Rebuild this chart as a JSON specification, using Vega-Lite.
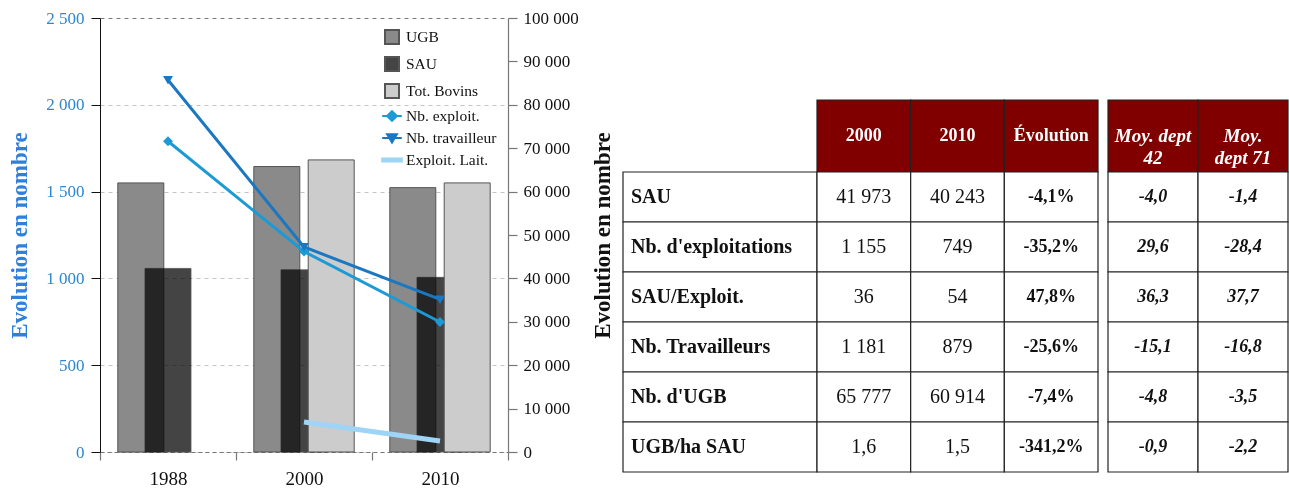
{
  "$schema": "https://vega.github.io/schema/vega-lite/v6.json",
  "background": "white",
  "padding": {"left": 8, "top": 9, "right": 0, "bottom": 0},
  "datasets": {
    "barres": [
      {"annee": "1988", "serie": "UGB", "valeur": 62000},
      {"annee": "1988", "serie": "SAU", "valeur": 42300},
      {"annee": "2000", "serie": "UGB", "valeur": 65777},
      {"annee": "2000", "serie": "SAU", "valeur": 41973},
      {"annee": "2000", "serie": "Tot. Bovins", "valeur": 67300},
      {"annee": "2010", "serie": "UGB", "valeur": 60914},
      {"annee": "2010", "serie": "SAU", "valeur": 40243},
      {"annee": "2010", "serie": "Tot. Bovins", "valeur": 62000}
    ],
    "lignes": [
      {"annee": "2000", "serie": "Exploit. Lait.", "valeur": 173},
      {"annee": "2010", "serie": "Exploit. Lait.", "valeur": 63},
      {"annee": "1988", "serie": "Nb. exploit.", "valeur": 1790},
      {"annee": "2000", "serie": "Nb. exploit.", "valeur": 1155},
      {"annee": "2010", "serie": "Nb. exploit.", "valeur": 749},
      {"annee": "1988", "serie": "Nb. travailleur", "valeur": 2143},
      {"annee": "2000", "serie": "Nb. travailleur", "valeur": 1181},
      {"annee": "2010", "serie": "Nb. travailleur", "valeur": 879}
    ],
    "tableau": [
      {"indicateur": "SAU", "v2000": "41 973", "v2010": "40 243", "evol": "-4,1%", "moy42": "-4,0", "moy71": "-1,4"},
      {"indicateur": "Nb. d'exploitations", "v2000": "1 155", "v2010": "749", "evol": "-35,2%", "moy42": "29,6", "moy71": "-28,4"},
      {"indicateur": "SAU/Exploit.", "v2000": "36", "v2010": "54", "evol": "47,8%", "moy42": "36,3", "moy71": "37,7"},
      {"indicateur": "Nb. Travailleurs", "v2000": "1 181", "v2010": "879", "evol": "-25,6%", "moy42": "-15,1", "moy71": "-16,8"},
      {"indicateur": "Nb. d'UGB", "v2000": "65 777", "v2010": "60 914", "evol": "-7,4%", "moy42": "-4,8", "moy71": "-3,5"},
      {"indicateur": "UGB/ha SAU", "v2000": "1,6", "v2010": "1,5", "evol": "-341,2%", "moy42": "-0,9", "moy71": "-2,2"}
    ]
  },
  "spacing": 11,
  "resolve": {
    "scale": {"fill": "independent", "stroke": "independent", "shape": "independent"},
    "legend": {"fill": "independent", "stroke": "independent", "shape": "independent"}
  },
  "hconcat": [
    {
      "width": 408,
      "height": 434,
      "encoding": {
        "x": {
          "field": "annee", "type": "nominal", "sort": null,
          "scale": {"domain": ["1988", "2000", "2010"], "paddingInner": 0, "paddingOuter": 0},
          "axis": {
            "title": null, "labelAngle": 0, "labelFont": "Liberation Serif", "labelFontSize": 19, "labelColor": "#111",
            "labelPadding": 9, "tickBand": "extent", "tickSize": 8, "tickColor": "#777", "tickWidth": 1.2,
            "domain": true, "domainColor": "#777", "domainDash": [4, 3], "grid": false
          }
        }
      },
      "layer": [
        {
          "data": {"name": "barres"},
          "encoding": {
            "xOffset": {"field": "serie", "type": "nominal", "sort": null,
              "scale": {"domain": ["UGB", "SAU", "Tot. Bovins"], "paddingInner": 0, "paddingOuter": 1.456}},
            "y": {
              "field": "valeur", "type": "quantitative", "stack": null,
              "scale": {"domain": [0, 100000], "nice": false, "zero": true},
              "axis": {
                "orient": "right", "title": null, "values": [0, 10000, 20000, 30000, 40000, 50000, 60000, 70000, 80000, 90000, 100000],
                "labelExpr": "replace(format(datum.value, ','), regexp(',', 'g'), ' ')",
                "labelFont": "Liberation Serif", "labelFontSize": 17, "labelColor": "#111", "labelPadding": 6,
                "tickSize": 9, "tickColor": "#777", "tickWidth": 1.2, "domainColor": "#777", "domainWidth": 1.2, "grid": false
              }
            },
            "fill": {
              "field": "serie", "type": "nominal",
              "scale": {
                "domain": ["UGB", "SAU", "Tot. Bovins", "Nb. exploit.", "Nb. travailleur", "Exploit. Lait."],
                "range": ["#8a8a8a", "#444444", "#cccccc", "#1c9ad6", "#1a78c2", "#9ed4f6"]
              },
              "legend": {
                "title": null, "orient": "top-right", "offset": 11, "padding": 0,
                "labelFont": "Liberation Serif", "labelFontSize": 15.5, "labelColor": "#111", "labelOffset": 6,
                "rowPadding": 5, "symbolSize": 196, "symbolStrokeWidth": 2, "symbolOpacity": 1
              }
            }
          },
          "layer": [
            {"transform": [{"filter": "datum.serie === 'UGB'"}],
              "mark": {"type": "bar", "stroke": "#555", "strokeWidth": 1, "width": 46}},
            {"transform": [{"filter": "datum.serie === 'SAU'"}],
              "mark": {"type": "bar", "stroke": "#555", "strokeWidth": 0.8, "width": 46, "blend": "multiply"}},
            {"transform": [{"filter": "datum.serie === 'Tot. Bovins'"}],
              "mark": {"type": "bar", "stroke": "#555", "strokeWidth": 1, "width": 46}}
          ]
        },
        {
          "data": {"name": "lignes"},
          "encoding": {
            "y": {
              "field": "valeur", "type": "quantitative",
              "scale": {"domain": [0, 2500], "nice": false, "zero": true},
              "axis": {
                "orient": "left", "title": "Evolution en nombre", "values": [0, 500, 1000, 1500, 2000, 2500],
                "labelExpr": "replace(format(datum.value, ','), regexp(',', 'g'), ' ')",
                "labelFont": "Liberation Serif", "labelFontSize": 17, "labelColor": "#2b88d2", "labelPadding": 7,
                "titleFont": "Liberation Serif", "titleFontSize": 23, "titleFontWeight": "bold", "titleColor": "#2f7fdc", "titlePadding": 14,
                "tickSize": 9, "tickColor": "#111", "domainColor": "#111",
                "grid": true, "gridDash": [4, 4],
                "gridColor": {"condition": {"test": "datum.value === 2500", "value": "#777"}, "value": "#c4c4c4"}
              }
            }
          },
          "layer": [
            {
              "transform": [{"filter": "datum.serie === 'Exploit. Lait.'"}],
              "mark": {"type": "line", "strokeWidth": 5},
              "encoding": {
                "stroke": {"field": "serie", "type": "nominal",
                  "scale": {
                    "domain": ["UGB", "SAU", "Tot. Bovins", "Nb. exploit.", "Nb. travailleur", "Exploit. Lait."],
                    "range": ["#555555", "#555555", "#555555", "#1c9ad6", "#1a78c2", "#9ed4f6"]
                  },
                  "legend": {"title": null}}
              }
            },
            {
              "transform": [{"filter": "datum.serie !== 'Exploit. Lait.'"}],
              "mark": {"type": "line", "strokeWidth": 3},
              "encoding": {
                "stroke": {"field": "serie", "type": "nominal",
                  "scale": {
                    "domain": ["UGB", "SAU", "Tot. Bovins", "Nb. exploit.", "Nb. travailleur", "Exploit. Lait."],
                    "range": ["#555555", "#555555", "#555555", "#1c9ad6", "#1a78c2", "#9ed4f6"]
                  },
                  "legend": {"title": null}}
              }
            },
            {
              "transform": [{"filter": "datum.serie !== 'Exploit. Lait.'"}],
              "mark": {"type": "point", "filled": true, "size": 200, "opacity": 1, "strokeWidth": 0},
              "encoding": {
                "fill": {"field": "serie", "type": "nominal"},
                "shape": {"field": "serie", "type": "nominal",
                  "scale": {
                    "domain": ["UGB", "SAU", "Tot. Bovins", "Nb. exploit.", "Nb. travailleur", "Exploit. Lait."],
                    "range": ["square", "square", "square",
                      "M-1.4,0H1.4M-0.7,0L0,-0.7L0.7,0L0,0.7Z",
                      "M-1.4,0H1.4M-0.7,-0.55L0.7,-0.55L0,0.65Z",
                      "M-1.4,-0.22H1.4V0.22H-1.4Z"]
                  },
                  "legend": {"title": null}}
              }
            }
          ]
        }
      ],
      "resolve": {"scale": {"y": "independent"}}
    },
    {
      "spacing": 0,
      "vconcat": [
        {
          "width": 10,
          "height": 81,
          "data": {"values": []},
          "mark": {"type": "text"},
          "encoding": {}
        },
        {
          "columns": 3,
          "spacing": 0,
          "bounds": "flush",
          "concat": [
            {
              "width": 194,
              "height": 72,
              "data": {"values": []},
              "mark": {"type": "text"},
              "encoding": {}
            },
            {
              "width": 281,
              "height": 72,
              "data": {"values": [
                {"col": "v2000", "titre": "2000"},
                {"col": "v2010", "titre": "2010"},
                {"col": "evol", "titre": "Évolution"}
              ]},
              "encoding": {
                "x": {"field": "col", "type": "nominal", "sort": null, "axis": null,
                  "scale": {"domain": ["v2000", "v2010", "evol"], "paddingInner": 0, "paddingOuter": 0}}
              },
              "layer": [
                {"mark": {"type": "rect", "fill": "#800000", "stroke": "#222", "strokeWidth": 1.2}},
                {"mark": {"type": "text", "color": "white", "font": "Liberation Serif", "fontSize": 18, "fontWeight": "bold"},
                  "encoding": {"text": {"field": "titre"}}}
              ]
            },
            {
              "width": 190,
              "height": 72,
              "data": {"values": [
                {"col": "moy42", "titre": "Moy. dept\n42"},
                {"col": "moy71", "titre": "Moy.\ndept 71"}
              ]},
              "encoding": {
                "x": {"field": "col", "type": "nominal", "sort": null, "axis": null,
                  "scale": {"domain": ["moy42", "moy71"], "paddingInner": 0, "paddingOuter": 0.0556, "align": 1}}
              },
              "layer": [
                {"mark": {"type": "rect", "fill": "#800000", "stroke": "#222", "strokeWidth": 1.2}},
                {"mark": {"type": "text", "color": "white", "font": "Liberation Serif", "fontSize": 19, "fontWeight": "bold", "fontStyle": "italic", "lineBreak": "\n", "lineHeight": 22},
                  "encoding": {"text": {"field": "titre"}}}
              ]
            },
            {
              "width": 194,
              "height": 300,
              "data": {"name": "tableau"},
              "encoding": {
                "y": {"field": "indicateur", "type": "nominal", "sort": null,
                  "scale": {"domain": ["SAU", "Nb. d'exploitations", "SAU/Exploit.", "Nb. Travailleurs", "Nb. d'UGB", "UGB/ha SAU"], "paddingInner": 0, "paddingOuter": 0},
                  "axis": {"title": "Evolution en nombre", "labels": false, "ticks": false, "domain": false, "grid": false,
                    "titleFont": "Liberation Serif", "titleFontSize": 23, "titleFontWeight": "bold", "titleColor": "#111",
                    "titlePadding": 9, "titleY": 63}}
              },
              "layer": [
                {"mark": {"type": "rect", "fill": "white", "stroke": "#222", "strokeWidth": 1.2}},
                {"mark": {"type": "text", "align": "left", "dx": 8, "font": "Liberation Serif", "fontSize": 20, "fontWeight": "bold", "color": "#111"},
                  "encoding": {
                    "x": {"datum": 0, "type": "quantitative", "axis": null, "scale": {"domain": [0, 1]}},
                    "text": {"field": "indicateur"}
                  }}
              ]
            },
            {
              "width": 281,
              "height": 300,
              "data": {"name": "tableau"},
              "transform": [{"fold": ["v2000", "v2010", "evol"], "as": ["col", "val"]}],
              "encoding": {
                "x": {"field": "col", "type": "nominal", "sort": null, "axis": null,
                  "scale": {"domain": ["v2000", "v2010", "evol"], "paddingInner": 0, "paddingOuter": 0}},
                "y": {"field": "indicateur", "type": "nominal", "sort": null, "axis": null,
                  "scale": {"domain": ["SAU", "Nb. d'exploitations", "SAU/Exploit.", "Nb. Travailleurs", "Nb. d'UGB", "UGB/ha SAU"], "paddingInner": 0, "paddingOuter": 0}}
              },
              "layer": [
                {"mark": {"type": "rect", "fill": "white", "stroke": "#222", "strokeWidth": 1.2}},
                {"transform": [{"filter": "datum.col !== 'evol'"}],
                  "mark": {"type": "text", "font": "Liberation Serif", "fontSize": 20, "color": "#111"},
                  "encoding": {"text": {"field": "val"}}},
                {"transform": [{"filter": "datum.col === 'evol'"}],
                  "mark": {"type": "text", "font": "Liberation Serif", "fontSize": 18, "fontWeight": "bold", "color": "#111"},
                  "encoding": {"text": {"field": "val"}}}
              ]
            },
            {
              "width": 190,
              "height": 300,
              "data": {"name": "tableau"},
              "transform": [{"fold": ["moy42", "moy71"], "as": ["col", "val"]}],
              "encoding": {
                "x": {"field": "col", "type": "nominal", "sort": null, "axis": null,
                  "scale": {"domain": ["moy42", "moy71"], "paddingInner": 0, "paddingOuter": 0.0556, "align": 1}},
                "y": {"field": "indicateur", "type": "nominal", "sort": null, "axis": null,
                  "scale": {"domain": ["SAU", "Nb. d'exploitations", "SAU/Exploit.", "Nb. Travailleurs", "Nb. d'UGB", "UGB/ha SAU"], "paddingInner": 0, "paddingOuter": 0}}
              },
              "layer": [
                {"mark": {"type": "rect", "fill": "white", "stroke": "#222", "strokeWidth": 1.2}},
                {"mark": {"type": "text", "font": "Liberation Serif", "fontSize": 18, "fontWeight": "bold", "fontStyle": "italic", "color": "#111"},
                  "encoding": {"text": {"field": "val"}}}
              ]
            }
          ]
        }
      ]
    }
  ],
  "config": {
    "view": {"stroke": null},
    "font": "Liberation Serif"
  }
}
